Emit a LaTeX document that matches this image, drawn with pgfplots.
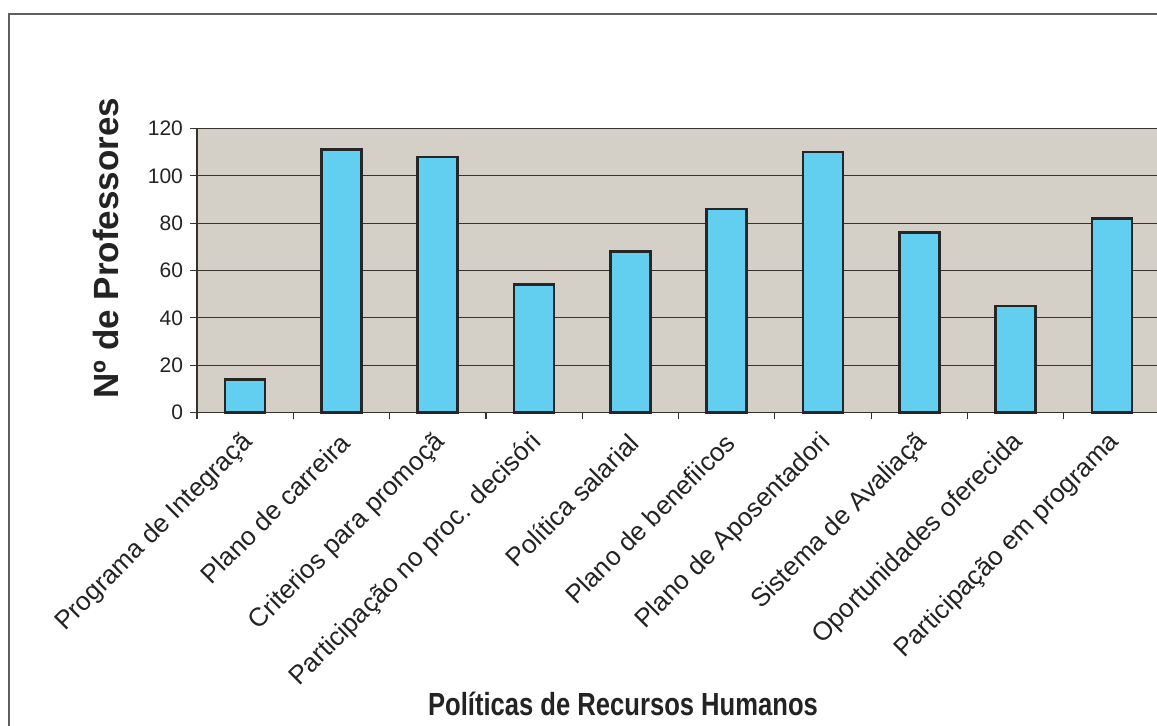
\documentclass[border=0pt]{standalone}
\usepackage{fontspec}
\setmainfont{Liberation Sans}
\usepackage{pgfplots}
\pgfplotsset{compat=1.18}
\definecolor{plotbg}{RGB}{212,208,200}
\definecolor{barfill}{RGB}{98,206,240}
\definecolor{gridc}{RGB}{55,50,45}
\definecolor{framec}{RGB}{95,95,95}
\definecolor{textc}{RGB}{35,35,35}
\begin{document}
\begin{tikzpicture}[x=0.5pt,y=0.5pt]
\useasboundingbox (0,0) rectangle (1157,726);
\clip (0,0) rectangle (1157,726);
\fill[white] (0,0) rectangle (1157,726);
% outer chart frame
\draw[framec, line width=0.8pt] (9,-10) -- (9,712) -- (1180,712);
\begin{axis}[
  at={(98.5pt,156.75pt)}, anchor=south west,
  width=481.5pt, height=142pt, scale only axis,
  xmin=0, xmax=10, ymin=0, ymax=120,
  ybar, bar width=20pt,
  axis background/.style={fill=plotbg},
  axis line style={gridc, line width=0.8pt},
  xtick={0,1,...,10},
  x tick label as interval,
  xticklabels={Programa de Integraçã, Plano de carreira, Criterios para promoçã,
    Participação no proc. decisóri, Política salarial, Plano de benefiicos,
    Plano de Aposentadori, Sistema de Avaliaçã, Oportunidades oferecida,
    Participação em programa},
  xticklabel style={rotate=45, anchor=east, font=\fontsize{13}{15}\selectfont,
    text=textc, yshift=-8pt, xshift=-2pt},
  ytick={0,20,...,120},
  yticklabel style={font=\fontsize{10.5}{12}\selectfont, text=textc},
  /pgf/number format/assume math mode=true,
  tick pos=left,
  tick align=outside,
  major tick length=3.5pt,
  tick style={gridc, line width=0.6pt},
  ymajorgrids,
  grid style={gridc, line width=0.6pt},
  clip=false,
]
\addplot[fill=barfill, draw=black!85, line width=1.3pt]
  coordinates {(0.5,14) (1.5,111) (2.5,108) (3.5,54) (4.5,68)
               (5.5,86) (6.5,110) (7.5,76) (8.5,45) (9.5,82)};
\end{axis}
\node[rotate=90, font=\bfseries\fontsize{17.5}{20}\selectfont, text=textc]
  at (106,478) {Nº de Professores};
\node[font=\bfseries\fontsize{16}{19}\selectfont, xscale=0.8, text=textc]
  at (623,22) {Políticas de Recursos Humanos};
\end{tikzpicture}
\end{document}
